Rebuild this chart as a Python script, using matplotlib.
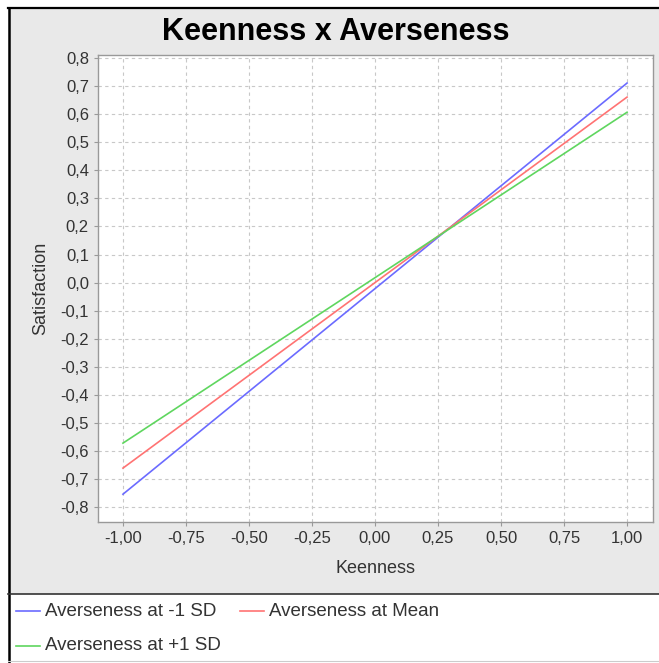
import matplotlib.pyplot as plt
from matplotlib.patches import Rectangle
from matplotlib.lines import Line2D
from matplotlib.ticker import FuncFormatter

# data: straight lines from keenness -1 to 1
keenness = [-1.0, 1.0]
low_sd = [-0.754, 0.711]
mean = [-0.661, 0.661]
high_sd = [-0.572, 0.607]
series_labels = ["Averseness at -1 SD", "Averseness at Mean", "Averseness at +1 SD"]
series_colors = ["#6b6bff", "#ff7373", "#5fd65f"]

x_ticks = [-1.0, -0.75, -0.5, -0.25, 0.0, 0.25, 0.5, 0.75, 1.0]
y_ticks = [round(-0.8 + 0.1 * i, 1) for i in range(17)]

plt.rcParams['font.family'] = ['Liberation Sans', 'DejaVu Sans']

W, H = 659, 663
fig = plt.figure(figsize=(W / 100, H / 100), dpi=100)
fig.patch.set_facecolor("white")

def fx(px):
    return px / W

def fy(py):
    return 1 - py / H

# grey chart panel
fig.patches.append(Rectangle((fx(8), fy(594)), fx(W) - fx(8), fy(8) - fy(594),
                             transform=fig.transFigure, facecolor="#e9e9e9",
                             edgecolor="none", zorder=-5))
# black frame top/left and separator
fig.add_artist(Line2D([fx(9), fx(9)], [fy(8), fy(H)], color="black", lw=1.8,
                      transform=fig.transFigure))
fig.add_artist(Line2D([fx(8), fx(W)], [fy(8), fy(8)], color="black", lw=1.6,
                      transform=fig.transFigure))
fig.add_artist(Line2D([fx(8), fx(W)], [fy(594), fy(594)], color="#333333", lw=1.2,
                      transform=fig.transFigure))
fig.add_artist(Line2D([fx(8), fx(W)], [fy(661), fy(661)], color="#cccccc", lw=0.8,
                      transform=fig.transFigure))

ax = fig.add_axes([fx(98), fy(522), fx(653) - fx(98), fy(55) - fy(522)])
ax.set_zorder(5)
ax.set_facecolor("white")

for ys, lab, col in zip([low_sd, mean, high_sd], series_labels, series_colors):
    ax.plot(keenness, ys, color=col, lw=1.2, label=lab)

ax.set_xlim(-1.099, 1.103)
ax.set_ylim(-0.853, 0.811)
ax.set_xticks(x_ticks)
ax.set_yticks(y_ticks)
ax.xaxis.set_major_formatter(FuncFormatter(lambda v, p: f"{v:.2f}".replace(".", ",")))
ax.yaxis.set_major_formatter(FuncFormatter(lambda v, p: f"{v:.1f}".replace(".", ",").replace("-0,0", "0,0")))
ax.grid(True, color="#c8c8c8", linestyle=(0, (3, 3)), lw=0.8)
ax.set_axisbelow(True)
for s in ax.spines.values():
    s.set_color("#999999")
    s.set_linewidth(1.0)
ax.tick_params(colors="#999999", labelcolor="#333333", labelsize=12, length=3, width=0.8)

ax.set_xlabel("Keenness", fontsize=13, color="#333333", labelpad=10)
ax.set_ylabel("Satisfaction", fontsize=13, color="#333333", labelpad=8)

fig.text(fx(336), fy(40), "Keenness x Averseness", ha="center", va="baseline",
         fontsize=22, fontweight="bold", color="black")

# legend drawn in the white band below
legend_rows = [(16, 611, 0), (240, 611, 1), (16, 646, 2)]
for x0, y0, i in legend_rows:
    fig.add_artist(Line2D([fx(x0), fx(x0 + 24)], [fy(y0), fy(y0)], color=series_colors[i],
                          lw=1.2, transform=fig.transFigure))
    fig.text(fx(x0 + 29), fy(y0), series_labels[i], ha="left", va="center",
             fontsize=13.5, color="#333333")

fig.savefig("out.png", dpi=100, facecolor=fig.get_facecolor())
